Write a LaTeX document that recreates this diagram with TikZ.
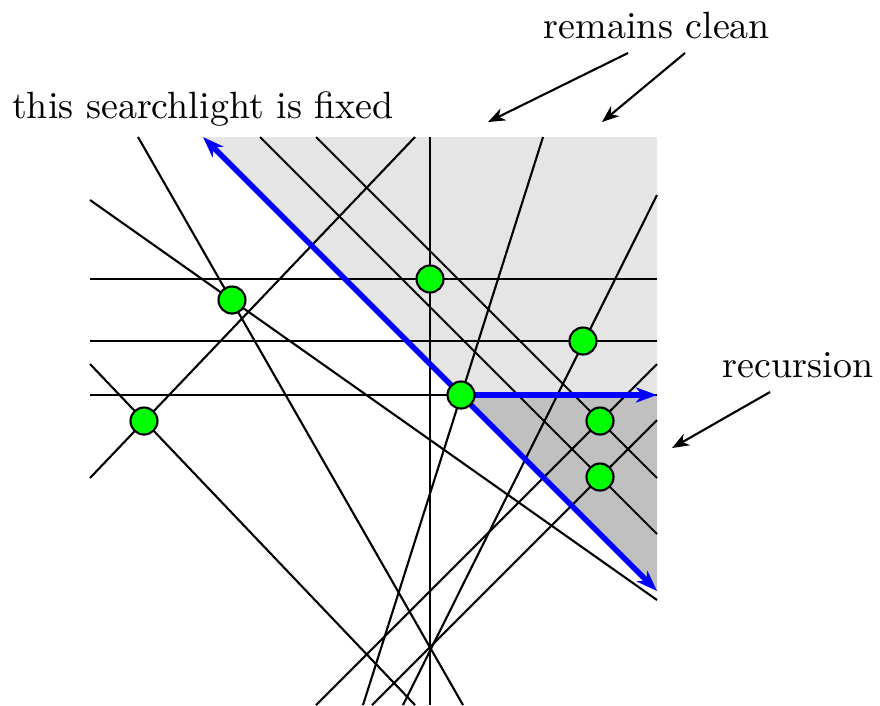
\documentclass[tikz,border=0pt]{standalone}
\usepackage{tikz}
\usetikzlibrary{arrows.meta}
\definecolor{litgray}{HTML}{E5E5E5}
\definecolor{drkgray}{HTML}{C0C0C0}

\begin{document}
\begin{tikzpicture}[
    x=0.01cm, y=-0.01cm,
    line/.style={semithick, draw=black},
    beam/.style={ultra thick, draw=blue},
    beamtip/.tip={Stealth[length=2.1mm, width=1.5mm, inset=0.6mm]},
    dot/.style={circle, draw=black, semithick, fill=green, minimum size=0.27cm, inner sep=0pt},
    note/.style={font=\fontsize{10.8}{13}\selectfont, inner sep=0pt, anchor=base},
    pointer/.style={-{Stealth[length=1.7mm, width=1.3mm, inset=0.5mm]}, semithick}
]
\useasboundingbox (0,0) rectangle (880,705);

\fill[litgray] (203,137) -- (657,137) -- (657,395) -- (461,395) -- cycle;
\fill[drkgray] (461,395) -- (657,395) -- (657,591) -- cycle;

\coordinate (h1w) at (90,279);  \coordinate (h1e) at (657,279);
\coordinate (h2w) at (90,341);  \coordinate (h2e) at (657,341);
\coordinate (h3w) at (90,395);  \coordinate (h3e) at (657,395);
\coordinate (vn) at (430,137);  \coordinate (vs) at (430,705);
\coordinate (an) at (138,137);  \coordinate (as) at (463,705);
\coordinate (bn) at (415,137);  \coordinate (bs) at (90,478);
\coordinate (cn) at (90,364);   \coordinate (cs) at (415,705);
\coordinate (dn) at (90,200);   \coordinate (ds) at (657,600);
\coordinate (s1n) at (260,137); \coordinate (s1s) at (657,534);
\coordinate (s2n) at (316,137); \coordinate (s2s) at (657,478);
\coordinate (m1n) at (657,364); \coordinate (m1s) at (316,705);
\coordinate (m2n) at (657,420); \coordinate (m2s) at (372,705);
\coordinate (t1n) at (543,137); \coordinate (t1s) at (363,705);
\coordinate (t2n) at (657,195); \coordinate (t2s) at (403,705);
\coordinate (nw) at (203,137);  \coordinate (se) at (657,591);

\draw[line] (h1w) -- (h1e);
\draw[line] (h2w) -- (h2e);
\draw[line] (h3w) -- (h3e);
\draw[line] (vn) -- (vs);
\draw[line] (an) -- (as);
\draw[line] (bn) -- (bs);
\draw[line] (cn) -- (cs);
\draw[line] (dn) -- (ds);
\draw[line] (s1n) -- (s1s);
\draw[line] (s2n) -- (s2s);
\draw[line] (m1n) -- (m1s);
\draw[line] (m2n) -- (m2s);
\draw[line] (t1n) -- (t1s);
\draw[line] (t2n) -- (t2s);

\draw[beam, beamtip-beamtip] (nw) -- (se);

\node[dot] (p1) at (232,300) {};
\node[dot] (p2) at (430,279) {};
\node[dot] (p3) at (583,341) {};
\node[dot] (p5) at (600,421) {};
\node[dot] (p6) at (600,477) {};
\node[dot] (p7) at (144,421) {};
\draw[beam, -beamtip] (461,395) -- (h3e);
\node[dot] (p4) at (461,395) {};

\node[note] (fixed) at (203,118) {this searchlight is fixed};
\node[note] (clean) at (657,38) {remains clean};
\node[note] (recur) at (798,377) {recursion};

\coordinate (c1a) at (628,53);  \coordinate (c1b) at (488,122);
\coordinate (c2a) at (685,53);  \coordinate (c2b) at (602,122);
\coordinate (r1a) at (770,392); \coordinate (r1b) at (672,448);
\draw[pointer] (c1a) -- (c1b);
\draw[pointer] (c2a) -- (c2b);
\draw[pointer] (r1a) -- (r1b);
\end{tikzpicture}
\end{document}
